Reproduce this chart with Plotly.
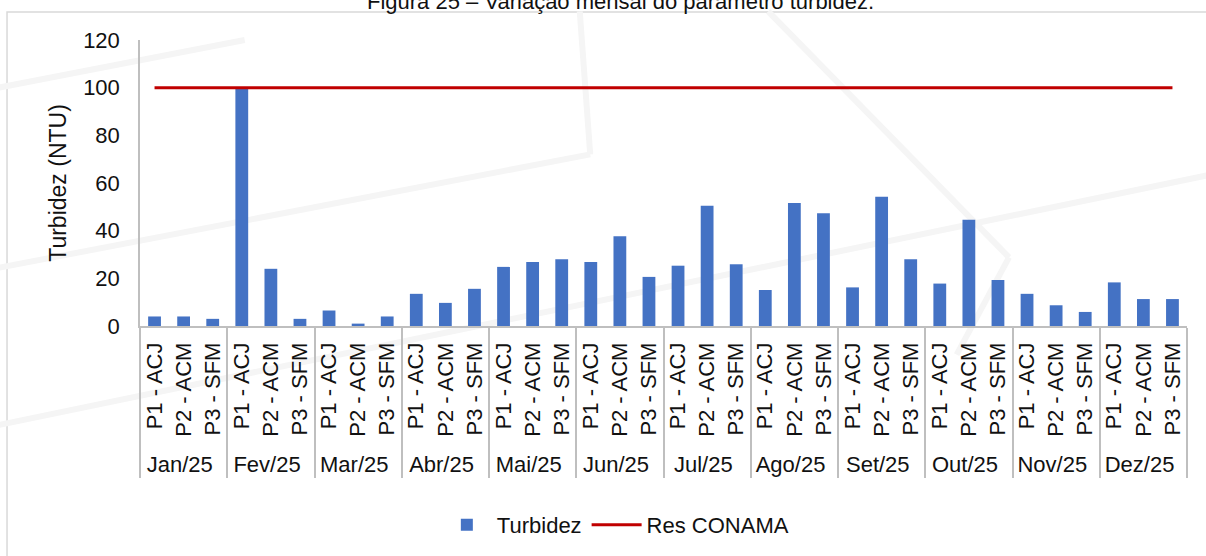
import plotly.graph_objects as go

months = ["Jan/25", "Fev/25", "Mar/25", "Abr/25", "Mai/25", "Jun/25",
          "Jul/25", "Ago/25", "Set/25", "Out/25", "Nov/25", "Dez/25"]
points = ["P1 - ACJ", "P2 - ACM", "P3 - SFM"]

turbidez = [
    4, 4, 3,          # Jan
    100, 24, 3,       # Fev
    6.5, 1, 4,        # Mar
    13.5, 9.7, 15.6,  # Abr
    24.8, 26.9, 28,   # Mai
    26.9, 37.7, 20.6,  # Jun
    25.3, 50.5, 25.9,  # Jul
    15.1, 51.6, 47.3,  # Ago
    16.2, 54.2, 28,    # Set
    17.8, 44.6, 19.3,  # Out
    13.5, 8.7, 5.9,    # Nov
    18.3, 11.3, 11.3,  # Dez
]
conama_limit = 100

x_outer = [m for m in months for _ in points]
x_inner = [p for _ in months for p in points]
limit_vals = [conama_limit] * len(x_outer)

font_family = "Arial, Liberation Sans, sans-serif"
txt = "#111111"
wm = "#f5f5f5"

fig = go.Figure()
fig.add_trace(go.Bar(
    x=[x_outer, x_inner], y=turbidez, name="Turbidez",
    marker=dict(color="#4472C4", line=dict(width=0)),
))
fig.add_trace(go.Scatter(
    x=[x_outer, x_inner], y=limit_vals, name="Res CONAMA",
    mode="lines", line=dict(color="#C00000", width=3),
))

fig.update_layout(
    width=1206, height=556,
    margin=dict(l=140, r=19, t=40, b=229),
    paper_bgcolor="white", plot_bgcolor="rgba(0,0,0,0)",
    font=dict(family=font_family, size=22, color=txt),
    bargap=0.56,
    showlegend=True,
    legend=dict(orientation="h", x=0.454, xanchor="center", y=-0.69, yanchor="middle",
                font=dict(size=22, color=txt), tracegroupgap=0, itemwidth=50),
    annotations=[dict(
        text="Figura 25 – Variação mensal do parâmetro turbidez.",
        xref="paper", yref="paper", x=0.459, y=1.133, xanchor="center", yanchor="middle",
        showarrow=False, font=dict(size=22, color=txt),
    )],
    shapes=[
        # page frame
        dict(type="rect", xref="paper", yref="paper", x0=-0.127, x1=1.2, y0=-1.2, y1=1.0976,
             line=dict(color="#d9d9d9", width=1.5), layer="below"),
        # faint watermark strokes
        dict(type="line", xref="paper", yref="paper", x0=-0.14, y0=0.83, x1=0.1, y1=1.0,
             line=dict(color=wm, width=6), layer="below"),
        dict(type="line", xref="paper", yref="paper", x0=-0.14, y0=-0.35, x1=1.05, y1=0.55,
             line=dict(color=wm, width=6), layer="below"),
        dict(type="line", xref="paper", yref="paper", x0=-0.14, y0=0.2, x1=0.43, y1=0.6,
             line=dict(color=wm, width=6), layer="below"),
        dict(type="line", xref="paper", yref="paper", x0=0.43, y0=0.6, x1=0.42, y1=1.1,
             line=dict(color=wm, width=6), layer="below"),
        dict(type="line", xref="paper", yref="paper", x0=0.6, y0=1.1, x1=0.83, y1=0.24,
             line=dict(color=wm, width=6), layer="below"),
        dict(type="line", xref="paper", yref="paper", x0=0.83, y0=0.24, x1=0.78, y1=-0.1,
             line=dict(color=wm, width=6), layer="below"),
    ],
)

fig.update_yaxes(
    range=[0, 120], dtick=20, showgrid=False, zeroline=False,
    showline=True, linecolor="#bfbfbf", linewidth=1.5,
    ticks="", tickfont=dict(size=22, color=txt), ticklabelstandoff=14,
    title=dict(text="Turbidez (NTU)", font=dict(size=23, color=txt), standoff=10),
)
fig.update_xaxes(
    type="multicategory", tickangle=-90, showgrid=False,
    showline=True, linecolor="#bfbfbf", linewidth=1.5,
    showdividers=True, dividercolor="#bfbfbf", dividerwidth=1.5,
    tickfont=dict(size=22, color=txt), ticklabelstandoff=6,
)

fig.write_html("out.html", config={"displayModeBar": False},
               post_script="document.body.style.margin='0';document.body.style.padding='0';")
